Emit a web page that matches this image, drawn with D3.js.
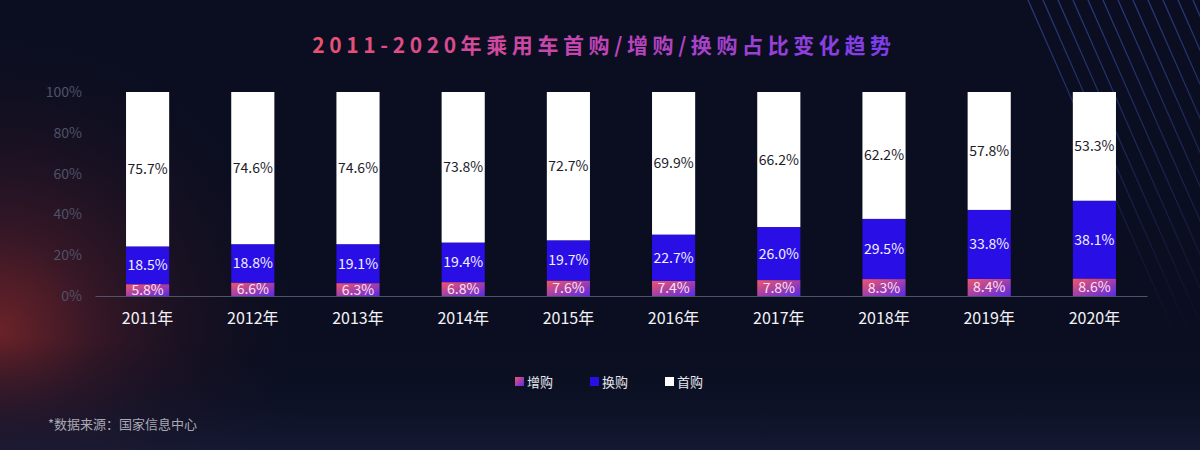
<!DOCTYPE html>
<html><head><meta charset="utf-8">
<script src="https://cdn.jsdelivr.net/npm/d3@7"></script>
<style>
html,body{margin:0;padding:0;background:#0a0e20;}
svg{display:block;font-family:"Noto Sans CJK SC","Noto Sans",sans-serif;}
</style></head>
<body><svg id="c" width="1200" height="450"></svg>
<script>
const categories = ["2011年","2012年","2013年","2014年","2015年","2016年","2017年","2018年","2019年","2020年"];
const zenggou = [5.8,6.6,6.3,6.8,7.6,7.4,7.8,8.3,8.4,8.6];
const huangou = [18.5,18.8,19.1,19.4,19.7,22.7,26.0,29.5,33.8,38.1];
const shougou = [75.7,74.6,74.6,73.8,72.7,69.9,66.2,62.2,57.8,53.3];
const seriesNames = ["增购","换购","首购"];
const yTicks = [0,20,40,60,80,100];

const svg = d3.select("#c");
const W = 1200, H = 450;
const defs = svg.append("defs");
const FONT = "'Noto Sans CJK SC','Noto Sans',sans-serif";

// background
svg.append("rect").attr("width",W).attr("height",H).attr("fill","#0a0e20");
const bg = defs.append("radialGradient").attr("id","bgGlow").attr("gradientUnits","userSpaceOnUse")
  .attr("cx",0).attr("cy",330).attr("r",320);
bg.append("stop").attr("offset","0%").attr("stop-color","#6a2228");
bg.append("stop").attr("offset","30%").attr("stop-color","#361726");
bg.append("stop").attr("offset","100%").attr("stop-color","#0a0e20").attr("stop-opacity",0);
svg.append("rect").attr("width",W).attr("height",H).attr("fill","url(#bgGlow)");
const bottomG = defs.append("linearGradient").attr("id","bottomG").attr("x1",0).attr("y1",0).attr("x2",0).attr("y2",1);
bottomG.append("stop").attr("offset","0%").attr("stop-color","#0a0e20").attr("stop-opacity",0);
bottomG.append("stop").attr("offset","100%").attr("stop-color","#171b36").attr("stop-opacity",0.8);
svg.append("rect").attr("y",340).attr("width",W).attr("height",110).attr("fill","url(#bottomG)");

// diagonal lines top-right
const lineG = defs.append("linearGradient").attr("id","lineG").attr("gradientUnits","userSpaceOnUse")
  .attr("x1",0).attr("y1",0).attr("x2",0).attr("y2",340);
lineG.append("stop").attr("offset","0%").attr("stop-color","#2a3a80").attr("stop-opacity",1);
lineG.append("stop").attr("offset","100%").attr("stop-color","#2a3a80").attr("stop-opacity",0);
const lg = svg.append("g").attr("stroke","url(#lineG)").attr("stroke-width",1.2);
for (let i = 0; i < 20; i++) {
  const x0 = 1028 + i * 15;
  lg.append("line").attr("x1",x0).attr("y1",0).attr("x2",x0 + 0.44*340).attr("y2",340);
}

// title
const tg = defs.append("linearGradient").attr("id","titleG").attr("x1",0).attr("y1",0).attr("x2",1).attr("y2",0);
tg.append("stop").attr("offset","0%").attr("stop-color","#ec5170");
tg.append("stop").attr("offset","50%").attr("stop-color","#c044b8");
tg.append("stop").attr("offset","100%").attr("stop-color","#7a3df0");
svg.append("text").attr("x",604).attr("y",53).attr("text-anchor","middle")
  .attr("font-size",21).attr("font-weight","bold").attr("letter-spacing",4.6)
  .attr("fill","url(#titleG)").text("2011-2020年乘用车首购/增购/换购占比变化趋势");

// gradient for 增购
const zg = defs.append("linearGradient").attr("id","zgG").attr("x1",0).attr("y1",0).attr("x2",1).attr("y2",1);
zg.append("stop").attr("offset","0%").attr("stop-color","#f0566a");
zg.append("stop").attr("offset","100%").attr("stop-color","#5a2ae6");

const colors = ["url(#zgG)","#2a0ee6","#ffffff"];
const labelColors = ["#ffe0ea","#f2f0ff","#1c1c2a"];

const x = d3.scaleBand().domain(categories).range([95,1147]).paddingInner(0.59).paddingOuter(0.295);
const y = d3.scaleLinear().domain([0,100]).range([296,92]);

// y axis labels
const yAxis = d3.axisLeft(y).tickValues(yTicks).tickFormat(d => d + "%").tickSize(0).tickPadding(13);
const ya = svg.append("g").attr("transform","translate(95,0)").call(yAxis);
ya.select(".domain").remove();
ya.selectAll("text").attr("fill","#4e5268").attr("font-size",14).attr("font-family",FONT);

// stacked data
const rows = categories.map((c,i) => ({cat:c, 增购:zenggou[i], 换购:huangou[i], 首购:shougou[i]}));
const stack = d3.stack().keys(seriesNames)(rows);

const g = svg.append("g");
stack.forEach((s, si) => {
  g.selectAll(null).data(s).enter().append("rect")
    .attr("x", d => x(d.data.cat))
    .attr("width", x.bandwidth())
    .attr("y", d => y(d[1]))
    .attr("height", d => y(d[0]) - y(d[1]))
    .attr("fill", colors[si]);
});
stack.forEach((s, si) => {
  g.selectAll(null).data(s).enter().append("text")
    .attr("x", d => x(d.data.cat) + x.bandwidth()/2)
    .attr("y", d => (y(d[0]) + y(d[1]))/2 + 5)
    .attr("text-anchor","middle").attr("font-size",14)
    .attr("fill", labelColors[si])
    .text(d => (d[1]-d[0]).toFixed(1) + "%");
});

// x axis
const xAxis = d3.axisBottom(x).tickSize(0).tickPadding(17);
const xa = svg.append("g").attr("transform","translate(0,296)").call(xAxis);
xa.select(".domain").attr("stroke","#50546a").attr("stroke-width",1);
xa.selectAll("text").attr("fill","#f2f2f6").attr("font-size",16).attr("font-family",FONT);

// legend
const legX = [515, 590, 665];
const leg = svg.append("g");
seriesNames.forEach((n, i) => {
  leg.append("rect").attr("x",legX[i]).attr("y",377).attr("width",9).attr("height",9).attr("fill",colors[i]);
  leg.append("text").attr("x",legX[i]+12).attr("y",387).attr("font-size",13).attr("fill","#e6e6ee").text(n);
});

// footer
svg.append("text").attr("x",48).attr("y",429).attr("font-size",13).attr("fill","#a9a8b4").text("*数据来源：国家信息中心");
</script></body></html>
